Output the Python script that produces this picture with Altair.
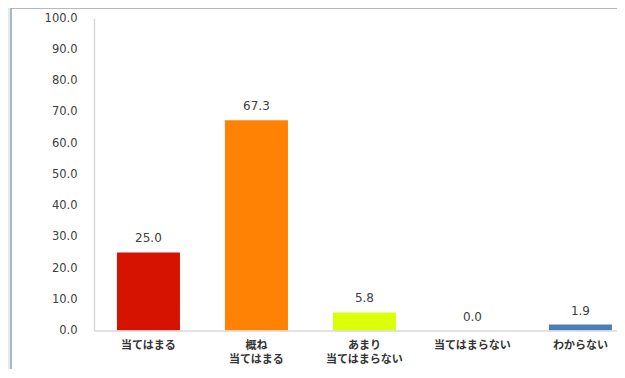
import altair as alt
import pandas as pd

categories = ["当てはまる", "概ね\n当てはまる", "あまり\n当てはまらない", "当てはまらない", "わからない"]
values = [25.0, 67.3, 5.8, 0.0, 1.9]
colors = ["#D61200", "#FF8205", "#DCFF0A", "#FFFFFF", "#4A7EBB"]
y_ticks = [0, 10, 20, 30, 40, 50, 60, 70, 80, 90, 100]

df = pd.DataFrame({"cat": categories, "val": values, "color": colors})

W = 523
H = 312.5

frame = alt.Chart(pd.DataFrame({"f": [0]})).mark_rect(
    fill="white", stroke="#9aa3a8", strokeWidth=1.5, clip=False
).encode(
    x=alt.value(-83), x2=alt.value(W + 30), y=alt.value(-10), y2=alt.value(H + 80)
)

xenc = alt.X(
    "cat:N",
    sort=categories,
    scale=alt.Scale(paddingInner=0.4167, paddingOuter=0.1296, align=0.82),
    axis=alt.Axis(
        title=None,
        labelAngle=0,
        labelExpr="split(datum.label, '\\n')",
        labelFont="Noto Sans CJK JP",
        labelFontSize=11,
        labelFontWeight="bold",
        labelColor="#333333",
        labelLineHeight=13.5,
        labelPadding=9,
        labelOverlap=False,
        ticks=False,
        domainColor="#d9d9d9",
        domainWidth=1.5,
        zindex=1,
    ),
)

yenc = alt.Y(
    "val:Q",
    scale=alt.Scale(domain=[0, 100], nice=False),
    axis=alt.Axis(
        title=None,
        values=y_ticks,
        format=".1f",
        ticks=False,
        grid=False,
        labelFont="DejaVu Sans",
        labelFontSize=11.5,
        labelColor="#404040",
        labelPadding=17,
        labelOverlap=False,
        domainColor="#d9d9d9",
        domainWidth=1.5,
        zindex=1,
    ),
)

base = alt.Chart(df).encode(x=xenc, y=yenc)

bars = base.mark_bar().encode(color=alt.Color("color:N", scale=None))

text = base.mark_text(
    baseline="bottom", dy=-7, font="DejaVu Sans", fontSize=12, color="#404040"
).encode(text=alt.Text("val:Q", format=".1f"))

chart = alt.layer(frame, bars, text).properties(
    width=W,
    height=H,
    padding={"left": 86, "top": 10, "right": 0, "bottom": 38},
    autosize=alt.AutoSizeParams(type="none"),
    background="#dcedf3",
).configure_view(stroke=None)

chart.save("out.html", embed_options={"renderer": "svg", "actions": False})
